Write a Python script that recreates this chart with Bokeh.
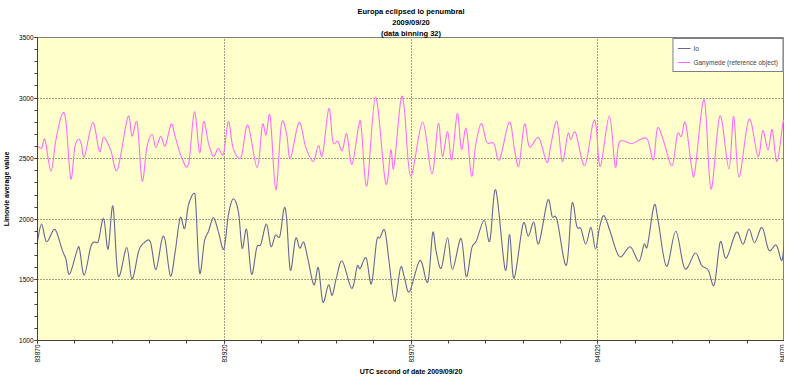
import numpy as np
from bokeh.plotting import figure
from bokeh.models import Range1d, FixedTicker, Legend, LegendItem, NumeralTickFormatter, Title
from bokeh.embed import file_html
from bokeh.resources import INLINE

# ---------------- data ----------------
io_t = [83870.0, 83871.1, 83872.4, 83874.2, 83875.1, 83876.7, 83877.6, 83878.6, 83880.7, 83881.3,
        83882.5, 83884.2, 83885.1, 83886.3, 83887.7, 83888.9, 83890.2, 83891.6, 83893.9, 83895.3,
        83897.1, 83898.4, 83900.2, 83901.7, 83903.3, 83904.2, 83905.6, 83906.9, 83908.2, 83909.4,
        83910.4, 83911.9, 83912.4, 83913.4, 83914.7, 83915.8, 83917.1, 83918.4, 83919.9, 83921.1,
        83922.4, 83923.8, 83924.8, 83926.0, 83927.3, 83928.7, 83929.8, 83931.3, 83932.5, 83933.7,
        83934.9, 83936.0, 83936.7, 83937.7, 83939.1, 83940.2, 83941.3, 83942.4, 83944.0, 83945.2,
        83946.4, 83947.9, 83948.9, 83950.0, 83951.6, 83954.1, 83955.6, 83956.4, 83958.0, 83959.4,
        83960.8, 83961.7, 83963.0, 83964.2, 83965.6, 83967.2, 83968.2, 83969.6, 83972.4, 83974.5,
        83975.8, 83976.7, 83978.1, 83979.8, 83981.1, 83983.4, 83984.8, 83986.3, 83987.5, 83989.6,
        83991.1, 83992.7, 83995.2, 83996.4, 83997.6, 84000.0, 84001.4, 84002.9, 84004.2, 84006.6,
        84007.8, 84009.1, 84011.6, 84013.1, 84014.4, 84015.5, 84016.8, 84018.2, 84019.4, 84020.5,
        84021.7, 84023.3, 84025.8, 84028.7, 84031.0, 84032.4, 84033.3, 84035.1, 84036.2, 84038.4,
        84040.9, 84043.3, 84046.1, 84047.8, 84049.6, 84051.2, 84052.8, 84054.4, 84057.1, 84058.9,
        84060.5, 84062.0, 84064.0, 84065.8, 84067.8, 84069.3, 84070.0]
io_v = [1821, 1960, 1815, 1909, 1896, 1740, 1673, 1547, 1754, 1746,
        1539, 1767, 1813, 1821, 2008, 1754, 2108, 1534, 1767, 1507,
        1740, 1802, 1815, 1585, 1834, 1821, 1531, 1740, 2014, 1923,
        2116, 2215, 2116, 1558, 1821, 1901, 2014, 1901, 1754, 2035,
        2169, 2062, 1762, 1915, 1547, 1767, 1794, 1960, 1775, 1869,
        1861, 2089, 2008, 1580, 1842, 1762, 1810, 1673, 1459, 1601,
        1317, 1459, 1373, 1513, 1655, 1430, 1612, 1593, 1681, 1467,
        1821, 1848, 1907, 1633, 1322, 1601, 1526, 1403, 1660, 1483,
        1888, 1740, 1596, 1848, 1585, 1842, 1526, 1767, 1821, 1992,
        1821, 2242, 1585, 1874, 1513, 1960, 1861, 1976, 1799, 2156,
        2022, 1995, 1620, 2129, 1941, 1923, 1794, 1933, 1754, 1936,
        2030, 1901, 1692, 1773, 1652, 1794, 1781, 2116, 1982, 1612,
        1901, 1593, 1722, 1620, 1580, 1459, 1813, 1679, 1893, 1794,
        1920, 1807, 1933, 1746, 1786, 1660, 1853]

gan_t = [83870.0, 83871.1, 83872.0, 83873.6, 83874.9, 83876.5, 83877.6, 83878.9, 83880.0, 83881.1,
         83881.8, 83882.6, 83884.8, 83886.6, 83887.7, 83889.6, 83891.4, 83894.2, 83895.3, 83896.7,
         83898.0, 83899.3, 83900.7, 83901.7, 83903.0, 83904.2, 83905.8, 83906.9, 83908.5, 83910.4,
         83912.0, 83913.4, 83914.5, 83915.8, 83917.1, 83918.4, 83919.8, 83921.1, 83922.4, 83924.5,
         83926.3, 83928.8, 83930.2, 83931.2, 83932.3, 83933.8, 83935.3, 83936.7, 83937.7, 83940.0,
         83941.8, 83943.8, 83945.2, 83946.3, 83948.0, 83949.1, 83950.4, 83951.6, 83952.8, 83954.2,
         83956.0, 83956.7, 83958.2, 83960.5, 83963.2, 83964.6, 83965.4, 83967.2, 83968.2, 83969.9,
         83973.1, 83975.6, 83977.3, 83978.4, 83979.8, 83980.9, 83982.4, 83983.5, 83984.8, 83986.2,
         83987.3, 83988.8, 83990.3, 83992.2, 83993.7, 83996.3, 83997.8, 83998.9, 84000.4, 84001.7,
         84004.2, 84006.4, 84007.5, 84009.1, 84010.5, 84012.0, 84012.8, 84014.1, 84016.5, 84018.7,
         84019.6, 84020.7, 84023.1, 84024.7, 84025.8, 84029.1, 84031.3, 84033.3, 84034.9, 84036.0,
         84037.7, 84039.9, 84041.3, 84042.4, 84043.5, 84045.1, 84046.0, 84048.5, 84050.3, 84052.7,
         84055.1, 84056.4, 84057.8, 84060.5, 84062.9, 84064.2, 84065.6, 84066.7, 84068.0, 84069.6,
         84070.0]
gan_v = [2606, 2585, 2657, 2397, 2652, 2861, 2812, 2335, 2598, 2660,
         2611, 2518, 2799, 2558, 2678, 2571, 2410, 2845, 2686, 2794,
         2317, 2598, 2700, 2593, 2684, 2606, 2786, 2678, 2518, 2451,
         2887, 2550, 2807, 2625, 2518, 2585, 2539, 2807, 2585, 2512,
         2778, 2426, 2778, 2697, 2850, 2244, 2786, 2705, 2501, 2799,
         2598, 2477, 2609, 2528, 2914, 2638, 2644, 2566, 2705, 2453,
         2770, 2759, 2276, 3008, 2298, 2571, 2426, 2968, 2920, 2357,
         2802, 2376, 2791, 2518, 2724, 2491, 2874, 2577, 2748, 2357,
         2611, 2791, 2636, 2625, 2491, 2802, 2558, 2443, 2786, 2598,
         2673, 2469, 2625, 2807, 2477, 2705, 2657, 2713, 2443, 2791,
         2759, 2437, 2853, 2432, 2638, 2625, 2657, 2660, 2491, 2753,
         2638, 2443, 2700, 2684, 2796, 2437, 2394, 2987, 2250, 2853,
         2416, 2850, 2349, 2826, 2518, 2732, 2571, 2740, 2477, 2799,
         2786]

series_names = ["Io", "Ganymede (reference object)"]
title_lines = ["Europa eclipsed Io penumbral", "2009/09/20", "(data binning 32)"]
x_label = "UTC second of date 2009/09/20"
y_label = "Limovie average value"
x_major = [83870, 83920, 83970, 84020, 84070]
x_minor = list(range(83870, 84071, 10))
y_major = [1000, 1500, 2000, 2500, 3000, 3500]
y_minor = list(range(1000, 3501, 100))

FONT = "Liberation Sans"


def smooth_segments(t, v):
    """Catmull-Rom style smoothing (like a spreadsheet's smoothed line) -> bezier segments."""
    t = np.asarray(t, float)
    v = np.asarray(v, float)
    n = len(t)
    idx = np.arange(n - 1)
    im1 = np.clip(idx - 1, 0, n - 1)
    ip2 = np.clip(idx + 2, 0, n - 1)
    x0, y0 = t[idx], v[idx]
    x1, y1 = t[idx + 1], v[idx + 1]
    cx0 = x0 + (x1 - t[im1]) / 6.0
    cy0 = y0 + (y1 - v[im1]) / 6.0
    cx1 = x1 - (t[ip2] - x0) / 6.0
    cy1 = y1 - (v[ip2] - y0) / 6.0
    return dict(x0=x0, y0=y0, x1=x1, y1=y1, cx0=cx0, cy0=cy0, cx1=cx1, cy1=cy1)


p = figure(width=784, height=374, output_backend="svg", toolbar_location=None,
           title=None,
           x_range=Range1d(83870, 84070), y_range=Range1d(1000, 3500),
           min_border_left=35, min_border_right=0, min_border_top=0, min_border_bottom=0)


def make_title(text, size="7.5px", standoff=0, offset=-5):
    t = Title(text=text)
    t.align = "center"
    t.text_font = FONT
    t.text_font_size = size
    t.text_font_style = "bold"
    t.text_color = "black"
    t.standoff = standoff
    t.offset = offset
    return t


# titles above: first added sits closest to the frame
p.add_layout(make_title(title_lines[2], standoff=0), "above")
p.add_layout(make_title(title_lines[1]), "above")
p.add_layout(make_title(title_lines[0]), "above")
p.add_layout(make_title(" ", size="2px"), "above")

# x-axis label as a title below the axis
p.add_layout(make_title(x_label, size="7px", standoff=0, offset=0), "below")

p.background_fill_color = "#FFFFCC"
p.border_fill_color = "white"
p.outline_line_color = "#808080"
p.outline_line_width = 1

# axes
p.xaxis.ticker = FixedTicker(ticks=x_major, minor_ticks=x_minor)
p.yaxis.ticker = FixedTicker(ticks=y_major, minor_ticks=y_minor)
p.xaxis.formatter = NumeralTickFormatter(format="0")
p.yaxis.formatter = NumeralTickFormatter(format="0")
p.xaxis.major_label_orientation = np.pi / 2
p.yaxis.axis_label = y_label
for ax in (p.xaxis[0], p.yaxis[0]):
    ax.axis_line_color = "#404040"
    ax.major_tick_line_color = "#404040"
    ax.minor_tick_line_color = "#404040"
    ax.major_tick_out = 3
    ax.major_tick_in = 0
    ax.minor_tick_out = 3
    ax.minor_tick_in = 0
    ax.major_label_text_font = FONT
    ax.major_label_text_font_size = "6.5px"
    ax.major_label_text_color = "black"
    ax.major_label_standoff = 1
    ax.axis_label_text_font = FONT
    ax.axis_label_text_font_size = "7px"
    ax.axis_label_text_font_style = "bold"
    ax.axis_label_text_color = "black"
    ax.axis_label_standoff = 6

# grids
p.xgrid.ticker = FixedTicker(ticks=x_major[1:-1])
p.ygrid.ticker = FixedTicker(ticks=y_major[1:-1])
for g in (p.xgrid[0], p.ygrid[0]):
    g.grid_line_color = "#404040"
    g.grid_line_dash = "1 2"
    g.grid_line_width = 1

# series (smoothed lines)
io_seg = smooth_segments(io_t, io_v)
gan_seg = smooth_segments(gan_t, gan_v)
r_io = p.bezier(source=io_seg, x0="x0", y0="y0", x1="x1", y1="y1",
                cx0="cx0", cy0="cy0", cx1="cx1", cy1="cy1",
                line_color="#666699", line_width=1.1)
r_gan = p.bezier(source=gan_seg, x0="x0", y0="y0", x1="x1", y1="y1",
                 cx0="cx0", cy0="cy0", cx1="cx1", cy1="cy1",
                 line_color="#ff6cff", line_width=1.1)

legend = Legend(items=[LegendItem(label=series_names[0], renderers=[r_io]),
                       LegendItem(label=series_names[1], renderers=[r_gan])],
                location="top_right")
legend.background_fill_color = "white"
legend.background_fill_alpha = 1
legend.border_line_color = "black"
legend.border_line_width = 1
legend.label_text_font = FONT
legend.label_text_font_size = "6.5px"
legend.glyph_width = 13
legend.glyph_height = 8
legend.label_standoff = 3
legend.label_height = 10
legend.padding = 4
legend.spacing = 4
legend.margin = 1
p.add_layout(legend, "center")

open("out.html", "w").write(file_html(p, INLINE))
